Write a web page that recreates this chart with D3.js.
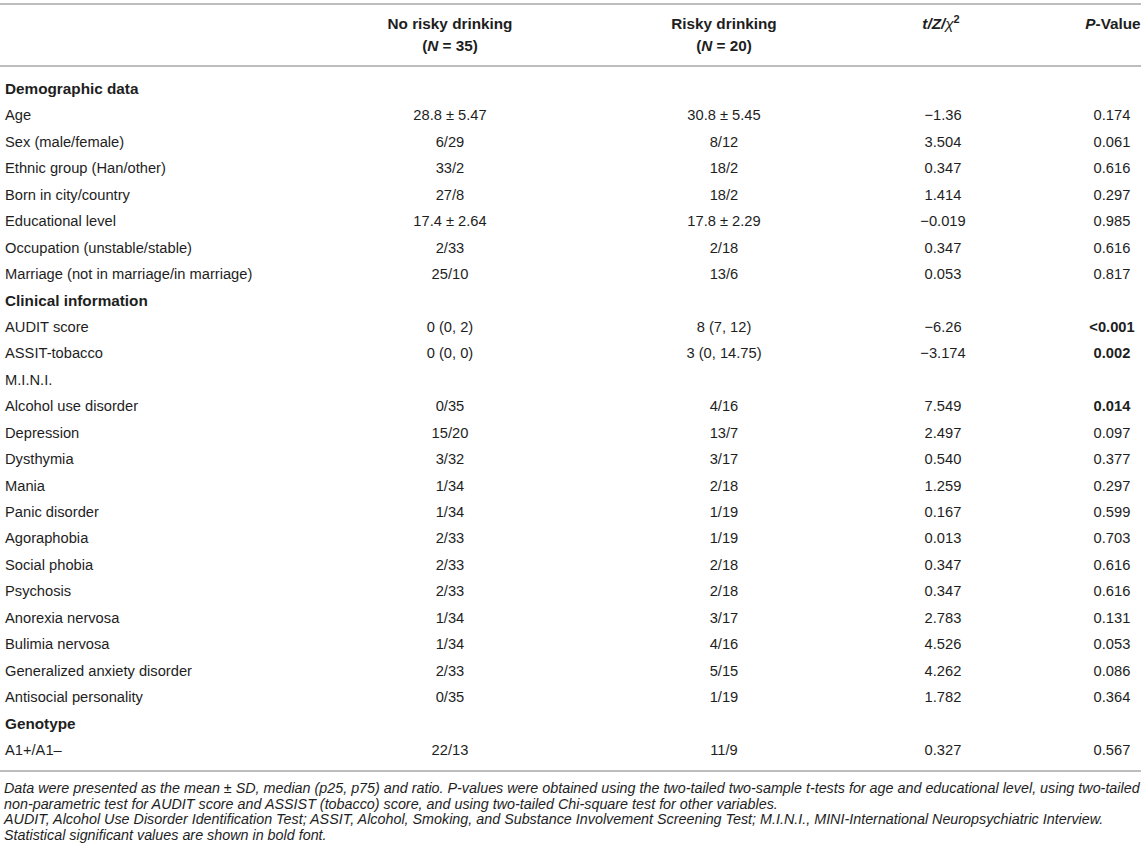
<!DOCTYPE html>
<html>
<head>
<meta charset="utf-8">
<script src="https://cdn.jsdelivr.net/npm/d3@7"></script>
<style>
  body { margin: 0; background: #fff; }
  svg text { font-family: "Liberation Sans", Arial, Helvetica, sans-serif; fill: #1e1e1e; }
</style>
</head>
<body>
<script>
// table content
var rowLabels = ["Demographic data", "Age", "Sex (male/female)", "Ethnic group (Han/other)", "Born in city/country",
  "Educational level", "Occupation (unstable/stable)", "Marriage (not in marriage/in marriage)",
  "Clinical information", "AUDIT score", "ASSIT-tobacco", "M.I.N.I.", "Alcohol use disorder", "Depression",
  "Dysthymia", "Mania", "Panic disorder", "Agoraphobia", "Social phobia", "Psychosis", "Anorexia nervosa",
  "Bulimia nervosa", "Generalized anxiety disorder", "Antisocial personality", "Genotype", "A1+/A1–"];
var sectionRows = ["Demographic data", "Clinical information", "Genotype"];
var noRisky = ["", "28.8 ± 5.47", "6/29", "33/2", "27/8", "17.4 ± 2.64", "2/33", "25/10",
  "", "0 (0, 2)", "0 (0, 0)", "", "0/35", "15/20", "3/32", "1/34", "1/34", "2/33", "2/33", "2/33", "1/34",
  "1/34", "2/33", "0/35", "", "22/13"];
var risky = ["", "30.8 ± 5.45", "8/12", "18/2", "18/2", "17.8 ± 2.29", "2/18", "13/6",
  "", "8 (7, 12)", "3 (0, 14.75)", "", "4/16", "13/7", "3/17", "2/18", "1/19", "1/19", "2/18", "2/18", "3/17",
  "4/16", "5/15", "1/19", "", "11/9"];
var statValue = ["", "−1.36", "3.504", "0.347", "1.414", "−0.019", "0.347", "0.053",
  "", "−6.26", "−3.174", "", "7.549", "2.497", "0.540", "1.259", "0.167", "0.013", "0.347", "0.347", "2.783",
  "4.526", "4.262", "1.782", "", "0.327"];
var pValue = ["", "0.174", "0.061", "0.616", "0.297", "0.985", "0.616", "0.817",
  "", "<0.001", "0.002", "", "0.014", "0.097", "0.377", "0.297", "0.599", "0.703", "0.616", "0.616", "0.131",
  "0.053", "0.086", "0.364", "", "0.567"];
var boldP = ["<0.001", "0.002", "0.014"];
var footnotes = [
  "Data were presented as the mean ± SD, median (p25, p75) and ratio. P-values were obtained using the two-tailed two-sample t-tests for age and educational level, using two-tailed",
  "non-parametric test for AUDIT score and ASSIST (tobacco) score, and using two-tailed Chi-square test for other variables.",
  "AUDIT, Alcohol Use Disorder Identification Test; ASSIT, Alcohol, Smoking, and Substance Involvement Screening Test; M.I.N.I., MINI-International Neuropsychiatric Interview.",
  "Statistical significant values are shown in bold font."
];

var width = 1146, height = 860;
var bodySize = 14.7, boldSize = 15.3;

var svg = d3.select("body").append("svg")
    .attr("width", width)
    .attr("height", height);

// row baselines
var y = d3.scalePoint()
    .domain(d3.range(rowLabels.length))
    .range([94, 755]);

var cols = [
  {key: "label", x: 5, anchor: "start"},
  {key: "noRisky", x: 450, anchor: "middle"},
  {key: "risky", x: 724, anchor: "middle"},
  {key: "stat", x: 943, anchor: "middle"},
  {key: "p", x: 1112, anchor: "middle"}
];

// rules
var rule = function(yy) {
  svg.append("line")
    .attr("x1", 0).attr("x2", 1141)
    .attr("y1", yy).attr("y2", yy)
    .attr("stroke", "#bdbdbd")
    .attr("stroke-width", 2);
};
rule(4);
rule(66);
rule(771);

// header
var head = svg.append("g").attr("font-size", boldSize).attr("font-weight", "bold");
head.append("text").attr("x", cols[1].x).attr("y", 29).attr("text-anchor", "middle").text("No risky drinking");
var h1b = head.append("text").attr("x", cols[1].x).attr("y", 51).attr("text-anchor", "middle");
h1b.append("tspan").text("(");
h1b.append("tspan").attr("font-style", "italic").text("N");
h1b.append("tspan").text(" = 35)");
head.append("text").attr("x", cols[2].x).attr("y", 29).attr("text-anchor", "middle").text("Risky drinking");
var h2b = head.append("text").attr("x", cols[2].x).attr("y", 51).attr("text-anchor", "middle");
h2b.append("tspan").text("(");
h2b.append("tspan").attr("font-style", "italic").text("N");
h2b.append("tspan").text(" = 20)");
var h3 = head.append("text").attr("x", cols[3].x - 2).attr("y", 29).attr("text-anchor", "middle").attr("font-style", "italic");
h3.append("tspan").text("t/Z/");
h3.append("tspan").attr("font-weight", "normal").text("χ");
h3.append("tspan").attr("font-style", "normal").attr("font-size", 11).attr("dy", -6).text("2");
var h4 = head.append("text").attr("x", cols[4].x + 1).attr("y", 29).attr("text-anchor", "middle");
h4.append("tspan").attr("font-style", "italic").text("P");
h4.append("tspan").text("-Value");

// body rows
var rows = svg.append("g").attr("font-size", bodySize)
  .selectAll("g.row")
  .data(rowLabels.map(function(d, i) {
    return {label: d, noRisky: noRisky[i], risky: risky[i], stat: statValue[i], p: pValue[i], i: i};
  }))
  .enter().append("g")
    .attr("class", "row")
    .attr("transform", function(d) { return "translate(0," + y(d.i) + ")"; });

cols.forEach(function(c) {
  rows.append("text")
    .attr("x", c.x)
    .attr("text-anchor", c.anchor)
    .attr("font-size", function(d) {
      return (c.key == "label" && sectionRows.indexOf(d.label) >= 0) ? boldSize : bodySize;
    })
    .attr("font-weight", function(d) {
      if (c.key == "label" && sectionRows.indexOf(d.label) >= 0) return "bold";
      if (c.key == "p" && boldP.indexOf(d.p) >= 0) return "bold";
      return "normal";
    })
    .text(function(d) { return d[c.key]; });
});

// footnotes, size fitted so the first (wrapped) line spans the table width
var notes = svg.append("g").attr("font-size", 14).attr("font-style", "italic");
var noteText = notes.selectAll("text")
  .data(footnotes)
  .enter().append("text")
    .attr("x", 4)
    .attr("y", function(d, i) { return 793 + i * 15.5; })
    .attr("fill", "#2a2a2a")
    .text(function(d) { return d; });
var firstLen = noteText.node().getComputedTextLength();
if (firstLen > 0) {
  var fs = Math.min(14.6, Math.max(13, 14 * 1137 / firstLen));
  notes.attr("font-size", fs);
}
</script>
</body>
</html>
